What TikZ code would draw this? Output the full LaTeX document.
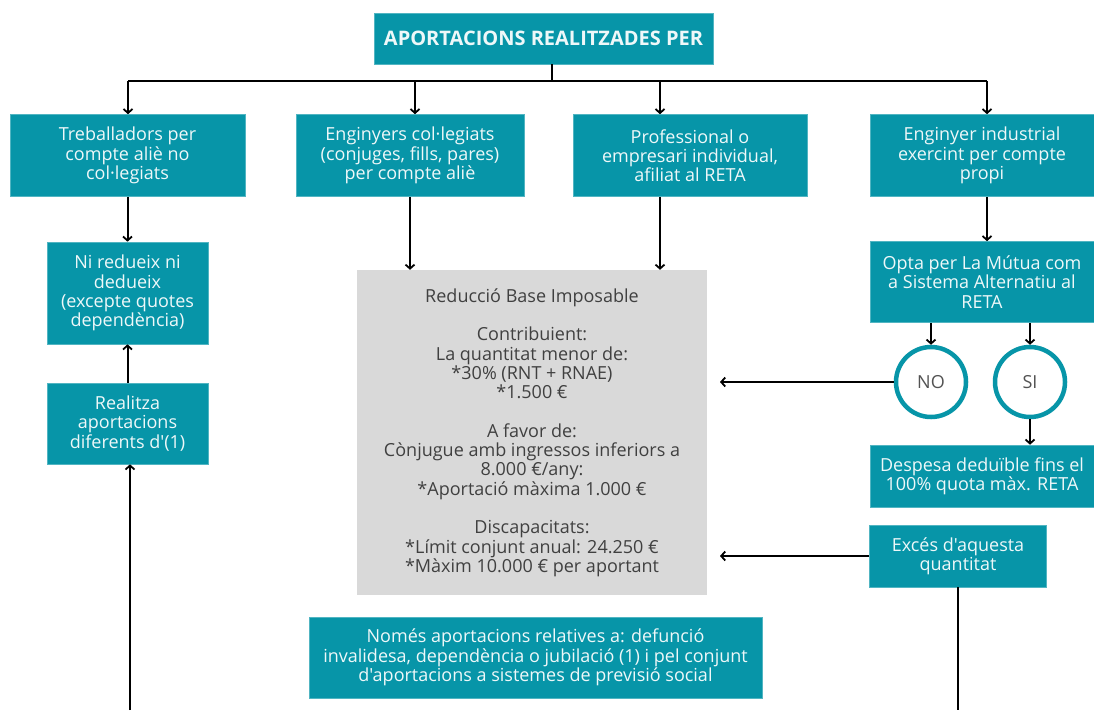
\documentclass[tikz,border=0pt]{standalone}
\usepackage{fontspec}
\newfontfamily\osans{Open Sans}
\usetikzlibrary{arrows.meta}
\definecolor{teal1}{HTML}{0795A8}
\definecolor{greyb}{HTML}{D9D9D9}
\definecolor{greyt}{HTML}{404040}
\definecolor{wtext}{HTML}{EEF8F9}
\begin{document}
\begin{tikzpicture}[x=1pt,y=-1pt,
  tbox/.style={fill=teal1,draw=teal1!70!white,line width=0.6pt,text=wtext,align=center,inner sep=0pt,
    font=\osans\fontsize{18}{19.3}\selectfont},
  gbox/.style={fill=greyb,draw=none,text=greyt,align=center,inner sep=0pt,
    font=\osans\fontsize{18}{19.3}\selectfont},
  circ/.style={circle,draw=teal1,line width=4.5pt,fill=white,text=greyt!90!white,minimum size=70pt,inner sep=0pt,
    font=\osans\fontsize{18}{19.3}\selectfont},
  con/.style={line width=2pt,black},
  arr/.style={con,-{Straight Barb[length=4pt,width=9pt,line width=1.8pt]}}
]
\useasboundingbox[fill=white] (0,0) rectangle (1094,710);

\node[tbox,minimum width=339pt,minimum height=51pt,font=\osans\bfseries\fontsize{20}{22}\selectfont] (title) at (543.5,38.5) {APORTACIONS REALITZADES PER};

\node[tbox,minimum width=235pt,minimum height=82pt] (b1) at (127.5,155.5) {Treballadors per\\compte aliè no\\col·legiats};
\node[tbox,minimum width=228pt,minimum height=82pt] (b2) at (410,155.5) {Enginyers col·legiats\\(conjuges, fills, pares)\\per compte aliè};
\node[tbox,minimum width=234pt,minimum height=82pt] (b3) at (690,155.5) {Professional o\\empresari individual,\\afiliat al RETA};
\node[tbox,minimum width=224pt,minimum height=82pt] (b4) at (982,155.5) {Enginyer industrial\\exercint per compte\\propi};

\node[tbox,minimum width=161pt,minimum height=102pt] (ni) at (127.5,293) {Ni redueix ni\\dedueix\\(excepte quotes\\dependència)};
\node[tbox,minimum width=161pt,minimum height=81pt] (real) at (127.5,423.5) {Realitza\\aportacions\\diferents d'(1)};

\node[gbox,minimum width=350pt,minimum height=325pt] (grey) at (532,432.5) {Reducció Base Imposable\\[19.3pt]Contribuient:\\La quantitat menor de:\\*30\% (RNT + RNAE)\\*1.500 €\\[19.3pt]A favor de:\\Cònjugue amb ingressos inferiors a\\8.000 €/any:\\*Aportació màxima 1.000 €\\[19.3pt]Discapacitats:\\*Límit conjunt anual: 24.250 €\\*Màxim 10.000 € per aportant};

\node[tbox,minimum width=224pt,minimum height=81pt] (opta) at (982,282) {Opta per La Mútua com\\a Sistema Alternatiu al\\RETA};
\node[circ] (no) at (931,382) {NO};
\node[circ] (si) at (1030,382) {SI};
\node[tbox,minimum width=224pt,minimum height=62pt] (desp) at (982,476) {Despesa deduïble fins el\\100\% quota màx. RETA};
\node[tbox,minimum width=177pt,minimum height=62pt] (exc) at (958,556) {Excés d'aquesta\\quantitat};

\node[tbox,minimum width=453pt,minimum height=81pt] (bot) at (535.5,657.5) {Només aportacions relatives a: defunció\\invalidesa, dependència o jubilació (1) i pel conjunt\\d'aportacions a sistemes de previsió social};

% bus
\coordinate (busc) at (552,81);
\coordinate (bus1) at (128,81);
\coordinate (bus2) at (415,81);
\coordinate (bus3) at (660,81);
\coordinate (bus4) at (987,81);
\draw[con] (title.south -| busc) -- (busc);
\draw[con] (bus1) -- (bus4);
\draw[arr] (bus1) -- (bus1 |- b1.north);
\draw[arr] (bus2) -- (bus2 |- b2.north);
\draw[arr] (bus3) -- (bus3 |- b3.north);
\draw[arr] (bus4) -- (bus4 |- b4.north);

\draw[arr] (b1.south) -- (ni.north);
\draw[arr] (real.north) -- (ni.south);
\coordinate (botL) at (130,710);
\draw[arr] (botL) -- (botL |- real.south);

\draw[arr] (b2.south) -- (grey.north -| b2.south);
\coordinate (c3) at (660,200);
\draw[arr] (c3 |- b3.south) -- (c3 |- grey.north);

\coordinate (c4) at (987,200);
\draw[arr] (c4 |- b4.south) -- (c4 |- opta.north);
\draw[arr] (opta.south -| no.north) -- (no.north);
\draw[arr] (opta.south -| si.north) -- (si.north);
\draw[arr] (si.south) -- (desp.north -| si.south);

\coordinate (tipno) at (720,382);
\draw[arr] (no.west) -- (tipno);
\coordinate (tipex) at (720,556);
\draw[arr] (exc.west) -- (tipex);
\coordinate (botR) at (958,710);
\draw[con] (exc.south) -- (botR);
\end{tikzpicture}
\end{document}
